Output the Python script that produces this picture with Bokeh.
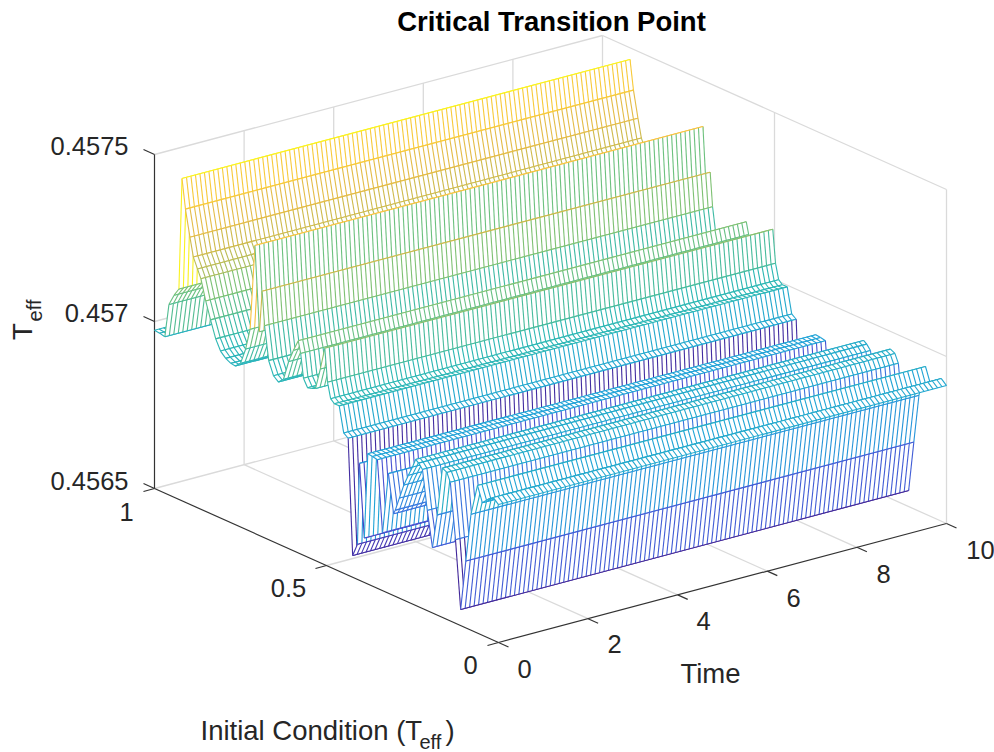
from bokeh.plotting import figure
from bokeh.models import Range1d
from bokeh.core.properties import value
from bokeh.embed import file_html
from bokeh.resources import INLINE

# ---------- data ----------
time_grid = [i / 10 for i in range(101)]
initial_condition = [
    1.000, 0.985, 0.970, 0.958, 0.943, 0.929, 0.920, 0.910, 0.897, 0.887,
    0.875, 0.865, 0.851, 0.837, 0.822, 0.808, 0.793, 0.778, 0.765, 0.750,
    0.735, 0.722, 0.708, 0.695, 0.687, 0.680, 0.668, 0.654, 0.640, 0.625,
    0.610, 0.596, 0.582, 0.575, 0.567, 0.555, 0.543, 0.532, 0.518, 0.505,
    0.497, 0.488, 0.477, 0.463, 0.450, 0.437, 0.424, 0.410, 0.404, 0.390,
    0.380, 0.366, 0.352, 0.337, 0.320, 0.305, 0.300, 0.288, 0.275, 0.262,
    0.250, 0.241, 0.232, 0.221, 0.207, 0.192, 0.178, 0.163, 0.150, 0.140,
    0.125, 0.110, 0.095, 0.080, 0.061, 0.047, 0.030, 0.015, 0.000,
]
teff = [
    0.456974, 0.456972, 0.456968, 0.457070, 0.457105, 0.457130, 0.457465, 0.457378, 0.457300, 0.457245,
    0.457215, 0.457190, 0.457130, 0.457080, 0.457030, 0.457000, 0.456985, 0.456977, 0.456975, 0.456990,
    0.457040, 0.457105, 0.457362, 0.457110, 0.457235, 0.457135, 0.457036, 0.456997, 0.456985, 0.457000,
    0.457060, 0.457100, 0.457135, 0.457100, 0.457030, 0.457007, 0.457010, 0.457015, 0.457080, 0.457148,
    0.457050, 0.457005, 0.456995, 0.456995, 0.456920, 0.456910, 0.456565, 0.456605, 0.456850, 0.456633,
    0.456890, 0.456888, 0.456885, 0.456673, 0.456858, 0.456745, 0.456758, 0.456800, 0.456845, 0.456880,
    0.456910, 0.456937, 0.456930, 0.456916, 0.456800, 0.456696, 0.456800, 0.456947, 0.456940, 0.456915,
    0.456750, 0.456548, 0.456700, 0.456847, 0.456942, 0.456897, 0.456915, 0.456927, 0.456913,
]
x_ticks = [0, 2, 4, 6, 8, 10]
x_tick_labels = ["0", "2", "4", "6", "8", "10"]
y_ticks = [0, 0.5, 1]
y_tick_labels = ["0", "0.5", "1"]
z_ticks = [0.4565, 0.457, 0.4575]
z_tick_labels = ["0.4565", "0.457", "0.4575"]

# ---------- view ----------
W, H = 994, 752
ZMIN, ZMAX = 0.4565, 0.4575
FONT = value("Liberation Sans")
INK = "#262626"
GRID = "#dadada"
AXIS = "#333333"


def proj(t, y, z):
    zn = (z - ZMIN) / (ZMAX - ZMIN)
    return (498 + 44.8 * t - 344 * y,
            642 - 11.9 * t - 154 * y - 334 * zn)


PARULA = [
    (0.00, (0.25, 0.15, 0.60)), (0.125, (0.28, 0.30, 0.82)), (0.25, (0.20, 0.50, 0.88)),
    (0.375, (0.12, 0.64, 0.84)), (0.50, (0.17, 0.72, 0.70)), (0.625, (0.45, 0.76, 0.47)),
    (0.75, (0.80, 0.73, 0.30)), (0.875, (0.97, 0.74, 0.26)), (1.00, (0.98, 0.95, 0.12)),
]


def colour(z):
    lo, hi = min(teff), max(teff)
    f = (z - lo) / (hi - lo)
    for (a, ca), (b, cb) in zip(PARULA, PARULA[1:]):
        if f <= b:
            k = (f - a) / (b - a)
            c = [ca[i] + k * (cb[i] - ca[i]) for i in range(3)]
            return "#%02x%02x%02x" % tuple(int(round(v * 255)) for v in c)
    return "#faf21f"


p = figure(width=W, height=H, x_range=Range1d(0, W), y_range=Range1d(H, 0),
           output_backend="svg", toolbar_location=None, min_border=0,
           outline_line_color=None, background_fill_color="white")
p.xaxis.visible = False
p.yaxis.visible = False
p.grid.visible = False


def seg(a, b, color, width=1.0):
    p.line([a[0], b[0]], [a[1], b[1]], line_color=color, line_width=width)


# back walls and floor grid
GW = 1.3
for z in [ZMIN, 0.457, ZMAX]:
    seg(proj(0, 1, z), proj(10, 1, z), GRID, GW)
    seg(proj(10, 1, z), proj(10, 0, z), GRID, GW)
seg(proj(10, 1, ZMIN), proj(10, 1, ZMAX), GRID, GW)
seg(proj(10, 0, ZMIN), proj(10, 0, ZMAX), GRID, GW)
for t in x_ticks[1:-1]:
    seg(proj(t, 1, ZMIN), proj(t, 1, ZMAX), GRID, GW)
    seg(proj(t, 0, ZMIN), proj(t, 1, ZMIN), GRID, GW)
for y in y_ticks[1:-1]:
    seg(proj(10, y, ZMIN), proj(10, y, ZMAX), GRID, GW)
    seg(proj(0, y, ZMIN), proj(10, y, ZMIN), GRID, GW)

# axis lines and ticks
seg(proj(0, 1, ZMIN), proj(0, 1, ZMAX), AXIS, 1.2)
seg(proj(0, 1, ZMIN), proj(0, 0, ZMIN), AXIS, 1.2)
seg(proj(0, 0, ZMIN), proj(10, 0, ZMIN), AXIS, 1.2)
for z in z_ticks:
    a = proj(0, 1, z)
    seg(a, (a[0] - 11, a[1] - 5), AXIS, 1.2)
for y in y_ticks:
    a = proj(0, y, ZMIN)
    seg(a, (a[0] - 11, a[1] + 3), AXIS, 1.2)
for t in x_ticks:
    a = proj(t, 0, ZMIN)
    seg(a, (a[0] + 10, a[1] + 4.5), AXIS, 1.2)

# mesh: hidden-line removal through back-to-front painting
LW = 1.1
for far in range(len(initial_condition) - 1):
    near = far + 1
    yf, yn = initial_condition[far], initial_condition[near]
    zf, zn = teff[far], teff[near]
    a, b = proj(0, yf, zf), proj(10, yf, zf)
    c, d = proj(10, yn, zn), proj(0, yn, zn)
    p.patch([a[0], b[0], c[0], d[0]], [a[1], b[1], c[1], d[1]],
            fill_color="white", line_color=None)
    xs, ys = [], []
    for t in time_grid:
        e, f = proj(t, yf, zf), proj(t, yn, zn)
        xs.append([e[0], f[0]])
        ys.append([e[1], f[1]])
    p.multi_line(xs, ys, line_color=colour(zn), line_width=LW)
    seg(a, b, colour(zf), LW)
    seg(d, c, colour(zn), LW)


def label(x, y, s, size=25.5, align="center", angle=0.0, style="normal", color=INK):
    p.text([x], [y], text=[s], text_font=FONT, text_font_size=f"{size}px",
           text_align=align, text_baseline="middle", angle=angle,
           text_color=color, text_font_style=style)


label(551, 21, "Critical Transition Point", size=27.5, style="bold", color="#000000")
for s, yy in zip(z_tick_labels, [480, 312, 145]):
    label(128, yy, s, align="right")
for s, (xx, yy) in zip(y_tick_labels, [(470, 664), (288, 587), (126, 511)]):
    label(xx, yy, s)
for s, (xx, yy) in zip(x_tick_labels, [(524, 668), (614, 643), (703, 620), (793, 597), (883, 573), (980, 549)]):
    label(xx, yy, s)
label(710, 673, "Time", size=27.5)
label(200, 730, "Initial Condition (T", size=27.5, align="left")
label(419, 741, "eff", size=20, align="left")
label(445, 730, ")", size=27.5, align="left")
label(22, 331, "T", size=27.5, angle=1.5708)
label(34, 310, "eff", size=20, angle=1.5708)

open("out.html", "w").write(file_html(p, INLINE))
